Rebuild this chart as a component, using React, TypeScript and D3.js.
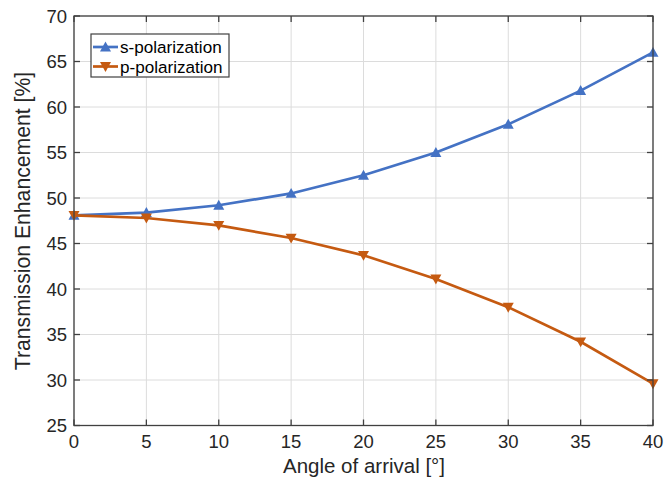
import React from "react";
import * as d3 from "d3";

const angles = [0, 5, 10, 15, 20, 25, 30, 35, 40];
const sPol = [48.1, 48.4, 49.2, 50.5, 52.5, 55.0, 58.1, 61.8, 66.0];
const pPol = [48.1, 47.8, 47.0, 45.6, 43.7, 41.1, 38.0, 34.2, 29.6];
const xTicks = [0, 5, 10, 15, 20, 25, 30, 35, 40];
const yTicks = [25, 30, 35, 40, 45, 50, 55, 60, 65, 70];
const seriesNames = ["s-polarization", "p-polarization"];

const W = 664, H = 481;
const L = 74, R = 653, T = 16, B = 425.5;
const blue = "#4472C4";
const orange = "#C55A11";
const axisColor = "#404040";
const textColor = "#262626";
const font = "'Liberation Sans', Arial, Helvetica, sans-serif";

export default function App() {
  const x = d3.scaleLinear().domain([0, 40]).range([L, R]);
  const y = d3.scaleLinear().domain([25, 70]).range([B, T]);
  const line = d3.line<number>().x((_, i) => x(angles[i])).y((d) => y(d));
  const tri = (cx: number, cy: number, up: boolean, s = 5.5) => {
    const h = s * 1.0;
    return up
      ? `M${cx},${cy - h} L${cx + s},${cy + h * 0.8} L${cx - s},${cy + h * 0.8} Z`
      : `M${cx},${cy + h} L${cx + s},${cy - h * 0.8} L${cx - s},${cy - h * 0.8} Z`;
  };
  const series = [
    { vals: sPol, color: blue, up: true },
    { vals: pPol, color: orange, up: false },
  ];
  return (
    <svg width={W} height={H} style={{ position: "absolute", left: 0, top: 0, background: "#fff" }}>
      <rect x={0} y={0} width={W} height={H} fill="#fff" />
      {xTicks.map((t) => (
        <line key={"gx" + t} x1={x(t)} x2={x(t)} y1={T} y2={B} stroke="#dcdcdc" strokeWidth={1} />
      ))}
      {yTicks.map((t) => (
        <line key={"gy" + t} x1={L} x2={R} y1={y(t)} y2={y(t)} stroke="#dcdcdc" strokeWidth={1} />
      ))}
      {series.map((s, k) => (
        <g key={k}>
          <path d={line(s.vals) || ""} fill="none" stroke={s.color} strokeWidth={2.7} />
          {s.vals.map((v, i) => (
            <path key={i} d={tri(x(angles[i]), y(v), s.up)} fill={s.color} />
          ))}
        </g>
      ))}
      <rect x={L} y={T} width={R - L} height={B - T} fill="none" stroke={axisColor} strokeWidth={1.3} />
      {xTicks.map((t) => (
        <g key={"tx" + t}>
          <line x1={x(t)} x2={x(t)} y1={B} y2={B - 6} stroke={axisColor} strokeWidth={1.3} />
          <line x1={x(t)} x2={x(t)} y1={T} y2={T + 6} stroke={axisColor} strokeWidth={1.3} />
          <text x={x(t)} y={B + 22} textAnchor="middle" fontSize={18.5} fontFamily={font} fill={textColor}>
            {t}
          </text>
        </g>
      ))}
      {yTicks.map((t) => (
        <g key={"ty" + t}>
          <line x1={L} x2={L + 6} y1={y(t)} y2={y(t)} stroke={axisColor} strokeWidth={1.3} />
          <line x1={R} x2={R - 6} y1={y(t)} y2={y(t)} stroke={axisColor} strokeWidth={1.3} />
          <text x={L - 7} y={y(t) + 6.5} textAnchor="end" fontSize={18.5} fontFamily={font} fill={textColor}>
            {t}
          </text>
        </g>
      ))}
      <text x={364} y={473} textAnchor="middle" fontSize={20.5} fontFamily={font} fill={textColor}>
        Angle of arrival [°]
      </text>
      <text
        transform={`translate(29.5,221) rotate(-90)`}
        textAnchor="middle"
        fontSize={21.2}
        fontFamily={font}
        fill={textColor}
      >
        Transmission Enhancement [%]
      </text>
      <g>
        <rect x={91} y={34} width={138} height={43} fill="#fff" stroke={axisColor} strokeWidth={1.2} />
        {series.map((s, k) => {
          const cy = 47 + k * 19.5;
          return (
            <g key={k}>
              <line x1={93} x2={118} y1={cy} y2={cy} stroke={s.color} strokeWidth={2.7} />
              <path d={tri(105.5, cy, s.up)} fill={s.color} />
              <text x={120} y={cy + 6} fontSize={17.1} fontFamily={font} fill="#000">
                {seriesNames[k]}
              </text>
            </g>
          );
        })}
      </g>
    </svg>
  );
}
